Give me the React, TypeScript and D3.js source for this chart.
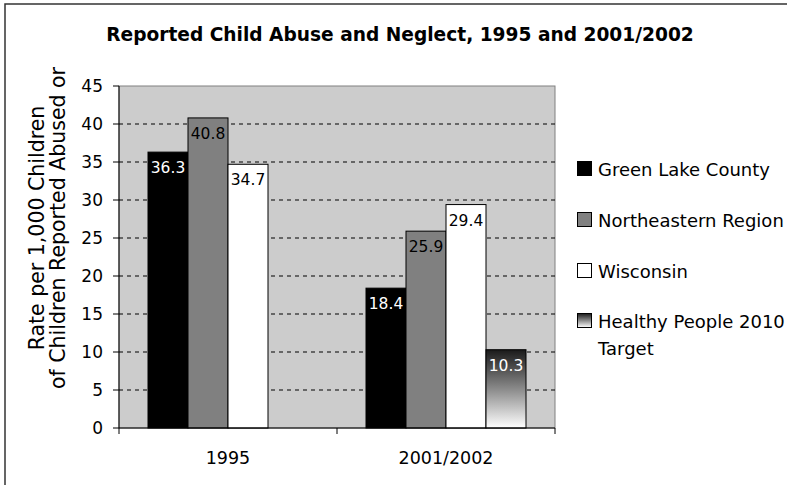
import React from 'react';
import * as d3 from 'd3';

const categories = ['1995', '2001/2002'];
const seriesNames = ['Green Lake County', 'Northeastern Region', 'Wisconsin', 'Healthy People 2010 Target'];
const legendLines = [['Green Lake County'], ['Northeastern Region'], ['Wisconsin'], ['Healthy People 2010', 'Target']];
const greenLake = [36.3, 18.4];
const northeastern = [40.8, 25.9];
const wisconsin = [34.7, 29.4];
const healthyPeople: (number | null)[] = [null, 10.3];
const yTicks = [0, 5, 10, 15, 20, 25, 30, 35, 40, 45];
const gridTicks = [5, 10, 15, 20, 25, 30, 35, 40];

const FONT = '"DejaVu Sans", sans-serif';
const W = 787, H = 485;
const L = 119, R = 555, T = 86, B = 428;

const fills = ['#000000', '#808080', '#ffffff', 'url(#hpGrad)'];
const labelColors = ['#ffffff', '#000000', '#000000', '#ffffff'];

export default function App() {
  const seriesValues: (number | null)[][] = [greenLake, northeastern, wisconsin, healthyPeople];
  const y = d3.scaleLinear().domain([0, 45]).range([B, T]);
  const x0 = d3.scaleBand<string>().domain(categories).range([L, R]).padding(0);
  const bw = x0.bandwidth();
  const x1 = d3.scaleBand<string>().domain(seriesNames).range([29, bw - 29]).padding(0);

  const legendBase = [176, 227, 278, 328];

  return (
    <svg width={W} height={H} style={{ position: 'absolute', left: 0, top: 0, background: '#fff' }} fontFamily={FONT}>
      <defs>
        <linearGradient id="hpGrad" x1="0" y1="0" x2="0" y2="1">
          <stop offset="0" stopColor="#1a1a1a" />
          <stop offset="0.5" stopColor="#8a8a8a" />
          <stop offset="1" stopColor="#ffffff" />
        </linearGradient>
      </defs>
      <rect x={0} y={0} width={W} height={H} fill="#fff" />
      <rect x={5} y={4} width={W + 20} height={H + 20} fill="none" stroke="#333" strokeWidth={1.5} />
      <text x={400} y={41} textAnchor="middle" fontWeight="bold" fontSize={18.6}>
        Reported Child Abuse and Neglect, 1995 and 2001/2002
      </text>

      <rect x={L} y={T} width={R - L} height={B - T} fill="#cccccc" stroke="#808080" strokeWidth={1} />
      {gridTicks.map((t) => (
        <line key={t} x1={L} x2={R} y1={y(t)} y2={y(t)} stroke="#000" strokeDasharray="4,4" strokeWidth={1} />
      ))}

      {categories.map((c, ci) => (
        <g key={c} transform={`translate(${x0(c)},0)`}>
          {seriesNames.map((s, si) => {
            const v = seriesValues[si][ci];
            if (v == null) return null;
            const bx = x1(s)!;
            const by = y(v);
            return (
              <g key={s}>
                <rect x={bx} y={by} width={x1.bandwidth()} height={B - by} fill={fills[si]} stroke="#000" strokeWidth={1} />
                <text x={bx + x1.bandwidth() / 2} y={by + 21} textAnchor="middle" fontSize={15.5} fill={labelColors[si]}>
                  {v.toFixed(1)}
                </text>
              </g>
            );
          })}
        </g>
      ))}

      {/* y axis */}
      <line x1={L} x2={L} y1={T} y2={B} stroke="#000" />
      {yTicks.map((t) => (
        <g key={t}>
          <line x1={L - 6} x2={L} y1={y(t)} y2={y(t)} stroke="#000" />
          <text x={103} y={y(t) + 6} textAnchor="end" fontSize={17}>{t}</text>
        </g>
      ))}
      {/* x axis */}
      <line x1={L} x2={R} y1={B} y2={B} stroke="#000" />
      {[L, L + bw, R].map((xx, i) => (
        <line key={i} x1={xx} x2={xx} y1={B} y2={B + 6} stroke="#000" />
      ))}
      {categories.map((c) => (
        <text key={c} x={x0(c)! + bw / 2} y={464} textAnchor="middle" fontSize={17.5}>{c}</text>
      ))}

      {/* y axis title */}
      <g transform="translate(44,228) rotate(-90)">
        <text x={0} y={0} textAnchor="middle" fontSize={20.5}>Rate per 1,000 Children</text>
        <text x={0} y={21} textAnchor="middle" fontSize={20.5}>of Children Reported Abused or</text>
      </g>

      {/* legend */}
      {seriesNames.map((s, si) => (
        <g key={s}>
          <rect x={577.5} y={legendBase[si] - 14.5} width={14} height={14} fill={fills[si]} stroke="#000" strokeWidth={1} />
          {legendLines[si].map((ln, li) => (
            <text key={li} x={598} y={legendBase[si] + li * 27} fontSize={18}>{ln}</text>
          ))}
        </g>
      ))}
    </svg>
  );
}
